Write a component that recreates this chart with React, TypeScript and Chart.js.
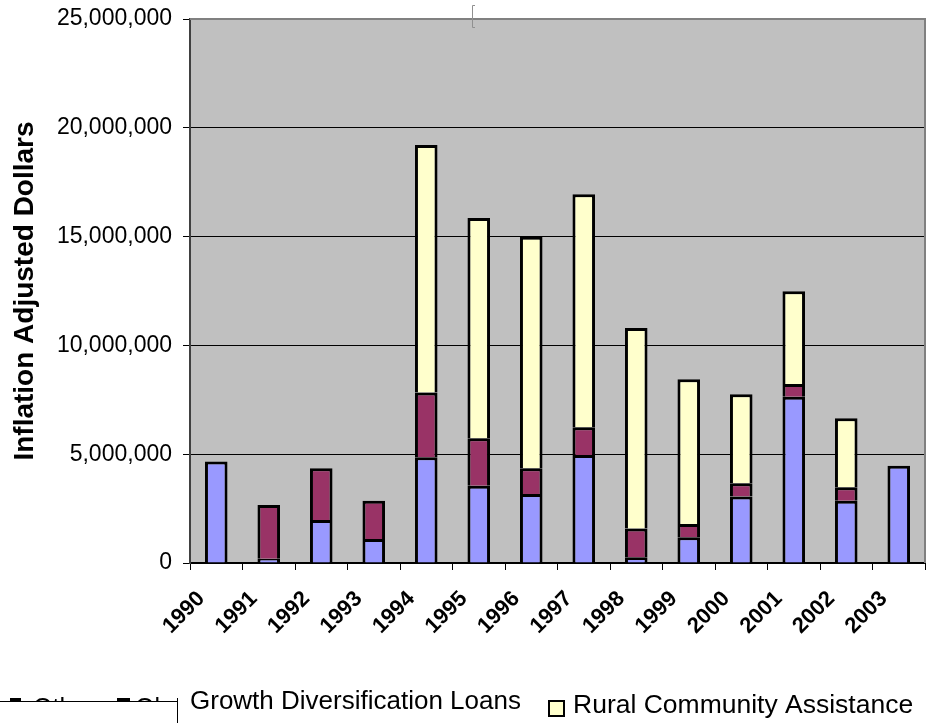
import React, { useEffect, useRef } from 'react';
import { Chart, registerables } from 'chart.js';

Chart.register(...registerables);

const years = ['1990', '1991', '1992', '1993', '1994', '1995', '1996', '1997', '1998', '1999', '2000', '2001', '2002', '2003'];
const otherValues = [4660000, 200000, 1980000, 1100000, 4860000, 3550000, 3170000, 4960000, 260000, 1180000, 3060000, 7640000, 2860000, 4470000];
const growthValues = [null, 2470000, 2370000, 1760000, 2970000, 2180000, 1180000, 1280000, 1320000, 610000, 600000, 590000, 620000, null];
const ruralValues = [null, null, null, null, 11380000, 10130000, 10640000, 10710000, 9220000, 6650000, 4090000, 4260000, 3170000, null];
const seriesLabels = ['Other', 'Growth Diversification Loans', 'Rural Community Assistance'];
const legendFragments = ['Other', 'Ol'];
const yTitle = 'Inflation Adjusted Dollars';
const yMax = 25000000;
const yStep = 5000000;

const FONT = '"Liberation Sans", Arial, sans-serif';
const colors = ['#9999FF', '#993366', '#FFFFCC'];

const plotPlugin = {
  id: 'plotDecor',
  beforeDraw(chart: any) {
    const { ctx, chartArea } = chart;
    ctx.save();
    ctx.fillStyle = '#C0C0C0';
    ctx.fillRect(chartArea.left, chartArea.top, chartArea.right - chartArea.left, chartArea.bottom - chartArea.top);
    ctx.restore();
  },
  afterDraw(chart: any) {
    const { ctx, chartArea } = chart;
    ctx.save();
    // plot border top/right
    ctx.strokeStyle = '#808080';
    ctx.lineWidth = 2;
    ctx.beginPath();
    ctx.moveTo(chartArea.left, chartArea.top);
    ctx.lineTo(chartArea.right, chartArea.top);
    ctx.lineTo(chartArea.right, chartArea.bottom);
    ctx.stroke();
    // small bracket artifact
    ctx.strokeStyle = '#909090';
    ctx.lineWidth = 1;
    ctx.beginPath();
    ctx.moveTo(475, 5.5);
    ctx.lineTo(472.5, 5.5);
    ctx.lineTo(472.5, 27.5);
    ctx.lineTo(475, 27.5);
    ctx.stroke();

    // legend (clipped, as in the original)
    const ds = chart.data.datasets;
    ctx.fillStyle = '#000';
    ctx.textBaseline = 'alphabetic';
    ctx.textAlign = 'left';
    ctx.save();
    ctx.beginPath();
    ctx.rect(0, 680, 177, 21.5);
    ctx.clip();
    ctx.font = `25px ${FONT}`;
    ctx.fillText(legendFragments[0], 33, 716);
    ctx.fillText(legendFragments[1], 135, 716);
    ctx.fillRect(10, 698, 11, 3);
    ctx.fillRect(117, 698, 13, 3);
    ctx.restore();
    ctx.strokeStyle = '#000';
    ctx.lineWidth = 1;
    ctx.beginPath();
    ctx.moveTo(0, 701.5);
    ctx.lineTo(177.5, 701.5);
    ctx.moveTo(177.5, 698);
    ctx.lineTo(177.5, 723);
    ctx.stroke();
    ctx.font = `26px ${FONT}`;
    ctx.fillText(ds[1].label, 190, 709);
    // yellow box
    ctx.fillStyle = ds[2].backgroundColor;
    ctx.fillRect(549, 701, 15, 15);
    ctx.strokeStyle = '#000';
    ctx.lineWidth = 2;
    ctx.strokeRect(549, 701, 15, 15);
    ctx.fillStyle = '#000';
    ctx.font = `26.5px ${FONT}`;
    ctx.fillText(ds[2].label, 573, 713);
    ctx.restore();
  },
};

export default function App() {
  const ref = useRef<HTMLCanvasElement | null>(null);
  useEffect(() => {
    if (!ref.current) return;
    const chart = new Chart(ref.current, {
      type: 'bar',
      data: {
        labels: years,
        datasets: [
          { label: seriesLabels[0], data: otherValues, backgroundColor: colors[0] },
          { label: seriesLabels[1], data: growthValues, backgroundColor: colors[1] },
          { label: seriesLabels[2], data: ruralValues, backgroundColor: colors[2] },
        ].map((d) => ({
          ...d,
          borderColor: '#000',
          borderWidth: 3,
          borderSkipped: 'start',
          barPercentage: 0.43,
          categoryPercentage: 1,
        })) as any,
      },
      options: {
        responsive: false,
        animation: false,
        layout: { padding: { top: 19, right: 1, left: 0, bottom: 0 } },
        plugins: {
          legend: { display: false },
          tooltip: { enabled: false },
          title: { display: false },
        },
        scales: {
          x: {
            stacked: true,
            offset: true,
            grid: {
              display: true,
              drawOnChartArea: false,
              offset: true,
              color: '#000',
              tickLength: 7,
              tickColor: '#000',
            },
            border: { color: '#000', width: 2 },
            ticks: {
              maxRotation: 45,
              minRotation: 45,
              autoSkip: false,
              labelOffset: -15,
              padding: 16,
              color: '#000',
              font: { family: FONT, size: 22, weight: 'bold' },
            },
            afterFit: (s: any) => {
              s.height = 160;
              s.paddingLeft = 0;
              s.paddingRight = 0;
            },
          },
          y: {
            stacked: true,
            min: 0,
            max: yMax,
            ticks: {
              stepSize: yStep,
              padding: 11,
              color: '#000',
              font: { family: FONT, size: 23 },
              callback: (v: any) => Number(v).toLocaleString('en-US'),
            },
            grid: { color: '#000', lineWidth: 1, tickLength: 7, tickColor: '#000' },
            border: { color: '#404040', width: 2 },
            title: {
              display: true,
              text: yTitle,
              color: '#000',
              font: { family: FONT, size: 28, weight: 'bold' },
              padding: { top: 8, bottom: 0 },
            },
            afterFit: (s: any) => {
              s.width = 190;
              s.paddingTop = 0;
              s.paddingBottom = 0;
            },
          },
        },
      },
      plugins: [plotPlugin],
    });
    return () => chart.destroy();
  }, []);
  return (
    <div style={{ position: 'absolute', left: 0, top: 0, width: 926, height: 723, background: '#fff' }}>
      <canvas ref={ref} width={926} height={723} style={{ display: 'block' }} />
    </div>
  );
}
